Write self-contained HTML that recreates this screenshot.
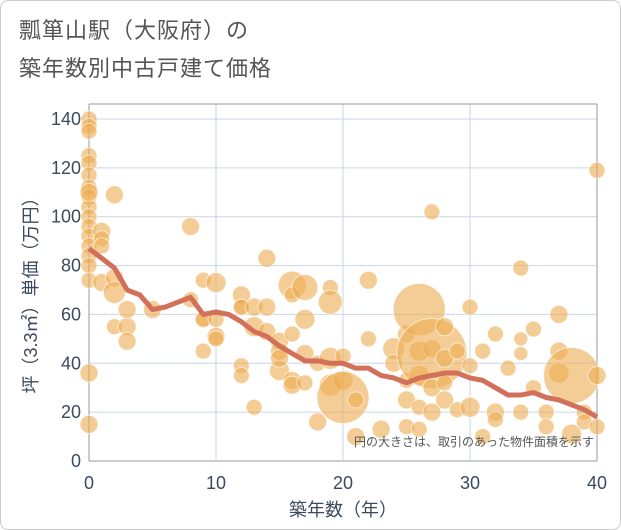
<!DOCTYPE html>
<html><head><meta charset="utf-8"><style>
body{margin:0;background:#fff}
#wrap{position:relative;width:619px;height:528px;border:1px solid #ccc;border-radius:8px;overflow:hidden;background:#fff;font-family:"Liberation Sans","Noto Sans CJK JP",sans-serif}
#title{position:absolute;left:18px;top:11px;font-size:22px;line-height:38px;color:#555;letter-spacing:1px}
</style></head><body>
<div id="wrap">
<div id="title">瓢箪山駅（大阪府）の<br>築年数別中古戸建て価格</div>
<svg id="chart" width="621" height="530" style="position:absolute;left:0;top:0"></svg>
</div>
<script>
const xTicks=[0,10,20,30,40];
const yTicks=[0,20,40,60,80,100,120,140];
const lineAges=[0,1,2,3,4,5,6,7,8,9,10,11,12,13,14,15,16,17,18,19,20,21,22,23,24,25,26,27,28,29,30,31,32,33,34,35,36,37,38,39,40];
const linePrices=[87,83,79,70,68,62,63,65,67,60,61,60,57,53,51,47,44,41,41,40,40,38,38,35,34,32,34,35,36,36,34,33,30,27,27,28,26,25,23,21,18];
const bubAges=[0,0,0,0,0,0,0,0,0,0,0,0,0,0,0,0,0,0,0,1,1,1,1,2,2,2,2,3,3,3,5,8,8,9,9,9,9,10,10,10,10,12,12,12,12,12,13,13,13,14,14,14,15,15,15,15,16,16,16,16,16,17,17,17,17,18,18,19,19,19,19,20,20,20,21,21,22,22,23,24,24,25,25,25,25,26,26,26,26,26,27,27,27,27,27,28,28,28,28,29,29,30,30,30,31,31,32,32,32,33,34,34,34,34,35,35,36,36,37,37,37,38,38,39,39,40,40,40];
const bubPrices=[140,137,135,125,122,117,112,108,104,100,96,92,88,84,80,74,36,15,110,94,91,88,73,109,75,69,55,55,49,62,62,96,66,74,58,45,58,73,58,51,50,68,63,39,35,63,63,55,22,83,63,53,49,45,37,42,72,68,52,33,31,71,58,44,32,40,16,71,65,42,31,43,33,26,25,10,74,50,13,46,40,52,33,25,14,62,45,35,22,13,102,46,44,30,20,42,55,32,25,45,21,63,39,22,45,10,52,20,17,38,79,50,44,20,54,30,20,14,60,45,36,35,11,20,16,119,35,14];
const bubSizes=[8,8,8,8,8,8,8,8,8,8,8,8,8,8,8,8,9,9,9,9,8,8,9,9,9,11,8,9,9,9,9,9,8,8,8,8,8,10,8,9,8,9,8,8,8,8,9,10,8,9,9,9,9,9,10,9,14,8,8,9,9,13,10,9,8,8,9,8,12,11,11,8,10,26,8,9,9,8,9,11,9,9,8,9,8,26,10,10,8,8,8,9,35,9,9,9,9,8,9,8,8,8,8,10,8,8,8,9,8,8,8,7,7,8,8,8,8,8,9,9,10,28,10,8,8,8,9,8];
const svg=document.getElementById('chart');
const NS='http://www.w3.org/2000/svg';
const X0=88,X1=596,Y0=460,Y1=118,TOP=103;
const TC='#3b4a5e';
function xs(v){return X0+(X1-X0)*v/40;}
function ys(v){return Y0-(Y0-Y1)*v/140;}
function mk(t,a,p){const e=document.createElementNS(NS,t);for(const k in a)e.setAttribute(k,a[k]);(p||svg).appendChild(e);return e;}
for(const t of yTicks){
 const l=mk('line',{x1:X0,x2:X1,y1:ys(t),y2:ys(t),stroke:t===0?'#999':'#c9d6e6','stroke-width':1});
 
 
 const tx=mk('text',{x:X0-8,y:ys(t)+6,'text-anchor':'end','font-size':18,fill:TC});
 tx.textContent=t;
 
 
}
for(const t of xTicks){
 const l=mk('line',{x1:xs(t),x2:xs(t),y1:TOP,y2:Y0,stroke:t===0||t===40?'#999':'#c9d6e6','stroke-width':1});
 
 
 const tx=mk('text',{x:xs(t),y:488,'text-anchor':'middle','font-size':18,fill:TC});
 tx.textContent=t;
 
 
}
const fr=mk('line',{x1:X0,x2:X1,y1:TOP,y2:TOP,stroke:'#999'});


for(let i=0;i<bubAges.length;i++){
 const c=mk('circle',{cx:xs(bubAges[i]),cy:ys(bubPrices[i]),r:bubSizes[i],fill:'rgba(236,172,80,0.6)',stroke:'rgba(255,255,255,0.6)','stroke-width':1});
 
 
}
const pl=mk('polyline',{points:lineAges.map((a,i)=>xs(a)+','+ys(linePrices[i])).join(' '),fill:'none',stroke:'#d2705a','stroke-width':5,'stroke-linejoin':'round'});


const note=mk('text',{x:593,y:445,'text-anchor':'end','font-size':12,fill:'#555'});
note.textContent='円の大きさは、取引のあった物件面積を示す';


const xt=mk('text',{x:342,y:515,'text-anchor':'middle','font-size':18,fill:TC});
xt.textContent='築年数（年）';


const yt=mk('text',{x:0,y:0,'text-anchor':'middle','font-size':18,fill:TC,transform:'translate(36,290) rotate(-90)'});
yt.textContent='坪（3.3㎡）単価（万円）';


</script>
</body></html>
